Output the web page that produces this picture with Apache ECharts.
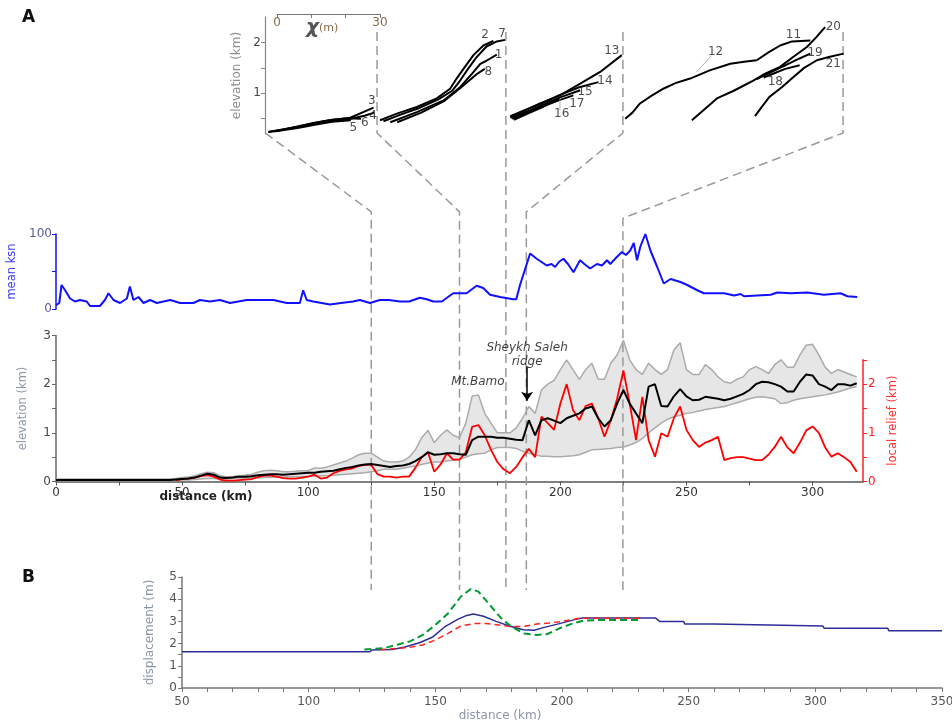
<!DOCTYPE html>
<html>
<head>
<meta charset="utf-8">
<script src="https://cdn.jsdelivr.net/npm/echarts@6/dist/echarts.min.js"></script>
<style>html,body{margin:0;background:#fff}#main{width:952px;height:724px}</style>
</head>
<body>
<div id="main"></div>
<script>
var chart = echarts.init(document.getElementById('main'));
var FONT = 'DejaVu Sans';

// ---- inset: chi-elevation profiles of channels (chi in m, elevation in km)
var ch1 = [[33,0.43],[40.7,0.63],[48.5,0.86],[53.3,1.12],[57,1.4],[59.2,1.58],[61,1.64],[64,1.76]];
var ch2 = [[30,0.47],[34.9,0.6],[40.7,0.73],[46.5,0.9],[50.4,1.09],[52.3,1.29],[54.3,1.48],[57.2,1.75],[60.1,1.94],[63,2.03]];
var ch3 = [[-2.5,0.24],[5.7,0.34],[10.6,0.41],[15.4,0.47],[21.3,0.52],[25.1,0.63],[28.1,0.72]];
var ch4 = [[-2.5,0.24],[5.7,0.33],[10.6,0.39],[15.4,0.45],[21.3,0.5],[25.5,0.56],[28.3,0.62]];
var ch5 = [[-1,0.25],[6,0.32],[11,0.38],[16,0.44],[21.5,0.47]];
var ch6 = [[0,0.26],[6,0.35],[11,0.42],[16,0.48],[21,0.51],[24.5,0.5]];
var ch7 = [[31,0.45],[36,0.58],[41,0.7],[47,0.88],[51,1.05],[53,1.22],[55,1.42],[58,1.7],[61,1.92],[64,2.02],[66.4,2.05]];
var ch8 = [[35,0.43],[42,0.62],[48.5,0.84],[53.3,1.1],[58.2,1.38],[60.5,1.48]];
var ch11 = [[139.7,1.65],[143,1.8],[146.5,1.94],[150,2.02],[155.3,2.04]];
var ch12 = [[101.4,0.5],[103.5,0.62],[105.7,0.8],[109,0.95],[112.5,1.09],[116,1.2],[120.3,1.29],[126,1.45],[132,1.58],[136,1.62],[139.7,1.65]];
var ch13 = [[67.9,0.54],[72,0.66],[76.6,0.8],[82.4,0.96],[88.3,1.19],[94.1,1.42],[100.4,1.75]];
var ch14 = [[68,0.55],[72.5,0.68],[77,0.8],[82.4,0.97],[88,1.12],[93.6,1.22]];
var ch15 = [[68,0.52],[73,0.65],[77,0.76],[82.4,0.92],[88.3,1.06]];
var ch16 = [[69,0.48],[73,0.6],[77,0.72],[82.4,0.9]];
var ch17 = [[68.5,0.5],[73,0.62],[77,0.73],[82,0.86],[86.3,0.96]];
var ch18 = [[141.7,1.31],[145,1.4],[148,1.48],[152.2,1.55]];
var ch19 = [[139.7,1.28],[144,1.42],[148,1.55],[152,1.68],[155.3,1.78]];
var ch20 = [[120.8,0.47],[123,0.6],[128.1,0.9],[133,1.05],[138.7,1.25],[142,1.38],[146.5,1.52],[150,1.7],[154.3,1.91],[157,2.1],[159.6,2.3]];
var ch21 = [[139.2,0.55],[141,0.72],[143.4,0.93],[147,1.12],[150.4,1.32],[153.5,1.5],[157.2,1.65],[161,1.72],[165,1.78]];
var channels = [ch1, ch2, ch3, ch4, ch5, ch6, ch7, ch8, ch11, ch12, ch13, ch14, ch15, ch16, ch17, ch18, ch19, ch20, ch21];
var channelLabels = [
  [64.5,1.75,'1'],[60.6,2.14,'2'],[27.6,0.86,'3'],[28,0.55,'4'],[22.2,0.33,'5'],[25.6,0.41,'6'],
  [65.5,2.17,'7'],[61.5,1.42,'8'],[150.4,2.14,'11'],[127.7,1.81,'12'],[97.5,1.84,'13'],[95.5,1.25,'14'],
  [89.7,1.03,'15'],[82.9,0.59,'16'],[87.3,0.8,'17'],[145.1,1.22,'18'],[156.7,1.79,'19'],[162,2.3,'20'],[162,1.58,'21']
];
var leader12 = [[126.5,1.74],[122.2,1.42]];
var leader16 = [[82.4,0.9],[82.4,0.66]];

// ---- mean ksn along the profile
var ksnKm = [0,1.3,2.2,3.6,5.6,7.5,9.5,12.2,13.5,17.4,19.4,20.8,22.8,25.4,28.1,29.3,30.7,32.7,34.7,37.3,40,45.3,49.2,54.5,57.1,61,65,69,75.6,80.9,86.2,91.5,96.7,98,99.4,102,108.6,113,117.8,120.5,124.5,128.4,132,136.4,140,144.3,147,149.6,153,157.5,160.1,162.8,166.8,169.4,172.1,176.1,181.3,182.5,184,188,190.6,194.6,196.5,197.9,199.5,201.2,203,205.2,207.8,209.5,211.8,214.5,216.5,218.5,219.8,222,224.4,226,227.7,229.1,230.4,231.7,233.7,235.7,238.4,241,243.7,247.6,250.3,254.3,256.9,264.9,268.9,271.5,272.8,283.4,286,291.3,297.9,304.5,311.1,313.8,317.7];
var ksnVal = [5,8,32,25,14,10,12,10,4,4,12,21,12,8,14,30,12,16,8,12,8,12,8,8,12,10,12,8,12,12,12,8,8,25,12,10,6,8,10,12,8,12,12,10,10,15,13,10,10,21,21,21,31,28,19,16,13,13,32,74,67,58,60,56,63,67,60,49,65,60,54,60,58,65,60,68,76,72,78,88,65,83,100,78,56,34,40,36,32,25,21,21,18,20,17,19,22,21,22,19,21,17,16];

// ---- swath profile, sampled every 2.5 km from 0 km
var elevStep = 2.5;
var elevMean = [
  0.03,0.03,0.03,0.03,0.03,0.03,0.03,0.03,0.03,0.03,
  0.03,0.03,0.03,0.03,0.03,0.03,0.03,0.03,0.03,0.04,
  0.05,0.06,0.08,0.12,0.16,0.14,0.08,0.07,0.08,0.1,
  0.1,0.11,0.13,0.14,0.15,0.15,0.14,0.15,0.16,0.17,
  0.18,0.18,0.2,0.21,0.22,0.25,0.28,0.3,0.33,0.35,
  0.36,0.34,0.32,0.3,0.32,0.33,0.36,0.42,0.5,0.6,
  0.55,0.56,0.58,0.58,0.56,0.55,0.85,0.92,0.92,0.92,
  0.9,0.9,0.88,0.86,0.85,1.26,0.95,1.26,1.3,1.25,
  1.2,1.3,1.35,1.4,1.5,1.54,1.3,1.13,1.26,1.6,
  1.88,1.6,1.4,1.2,1.95,2.0,1.55,1.54,1.75,1.9,
  1.75,1.67,1.68,1.74,1.72,1.7,1.67,1.7,1.75,1.8,
  1.88,2.0,2.05,2.04,2.0,1.95,1.85,1.85,2.05,2.2,
  2.18,2.0,1.95,1.88,2.0,2.0,1.97,2.02
];
var elevMax = [
  0.05,0.05,0.05,0.05,0.05,0.05,0.05,0.05,0.05,0.05,
  0.05,0.05,0.05,0.05,0.05,0.05,0.05,0.05,0.05,0.06,
  0.08,0.09,0.12,0.16,0.19,0.18,0.12,0.1,0.1,0.12,
  0.13,0.15,0.19,0.22,0.23,0.22,0.2,0.2,0.21,0.22,
  0.22,0.28,0.27,0.3,0.34,0.38,0.42,0.48,0.55,0.58,
  0.58,0.5,0.42,0.4,0.4,0.42,0.5,0.65,0.9,1.05,
  0.8,0.95,1.06,0.95,0.9,1.2,1.75,1.78,1.4,1.2,
  1.0,1.0,1.0,1.1,1.3,1.54,1.4,1.88,2.0,2.08,
  2.3,2.5,2.3,2.1,2.3,2.43,2.1,2.1,2.43,2.6,
  2.9,2.5,2.3,2.2,2.43,2.3,2.2,2.3,2.7,2.85,
  2.3,2.2,2.2,2.4,2.3,2.15,2.05,2.02,2.1,2.15,
  2.3,2.36,2.3,2.22,2.4,2.5,2.35,2.35,2.6,2.8,
  2.82,2.6,2.35,2.22,2.3,2.25,2.2,2.15
];
var elevMin = [
  0.02,0.02,0.02,0.02,0.02,0.02,0.02,0.02,0.02,0.02,
  0.02,0.02,0.02,0.02,0.02,0.02,0.02,0.02,0.02,0.02,
  0.03,0.03,0.04,0.05,0.06,0.06,0.05,0.05,0.06,0.07,
  0.07,0.07,0.07,0.08,0.08,0.09,0.09,0.1,0.1,0.1,
  0.11,0.11,0.12,0.12,0.13,0.14,0.15,0.16,0.17,0.18,
  0.2,0.22,0.25,0.25,0.25,0.27,0.3,0.32,0.35,0.38,
  0.4,0.4,0.42,0.44,0.45,0.5,0.55,0.57,0.58,0.65,
  0.7,0.7,0.7,0.68,0.62,0.58,0.55,0.52,0.52,0.51,
  0.51,0.52,0.53,0.55,0.6,0.65,0.66,0.67,0.68,0.7,
  0.71,0.75,0.8,0.88,1.0,1.1,1.2,1.28,1.33,1.36,
  1.4,1.42,1.45,1.48,1.5,1.52,1.54,1.58,1.62,1.66,
  1.7,1.73,1.74,1.72,1.7,1.6,1.62,1.67,1.7,1.72,
  1.74,1.76,1.78,1.81,1.84,1.88,1.92,1.95
];
// local relief starts at 47.5 km
var reliefStartKm = 47.5;
var relief = [
  0.03,
  0.05,0.06,0.08,0.11,0.13,0.1,0.04,0.02,0.02,0.03,
  0.04,0.05,0.09,0.12,0.12,0.1,0.07,0.06,0.06,0.08,
  0.1,0.14,0.06,0.08,0.17,0.22,0.25,0.27,0.32,0.34,
  0.34,0.15,0.1,0.1,0.08,0.1,0.1,0.28,0.5,0.6,
  0.2,0.35,0.58,0.45,0.45,0.6,1.12,1.16,0.95,0.65,
  0.4,0.25,0.17,0.3,0.5,0.67,0.5,1.33,1.2,1.06,
  1.6,2.0,1.47,1.26,1.55,1.6,1.3,0.92,1.26,1.7,
  2.28,1.6,0.85,1.74,0.85,0.51,0.99,0.92,1.3,1.54,
  1.06,0.85,0.71,0.8,0.85,0.92,0.44,0.48,0.5,0.5,
  0.47,0.44,0.44,0.55,0.71,0.92,0.7,0.58,0.8,1.05,
  1.13,1.0,0.7,0.51,0.58,0.5,0.4,0.2
];

// ---- panel B: modelled displacement
var dispBlueKm = [50,124,125,133,138,144,149,154,159,162,165,169,174,179.5,184.7,189,192.6,199,205,208,237,238.5,248,248.5,260,260.3,303,303.5,328.6,329,350];
var dispBlue = [1.63,1.63,1.71,1.73,1.85,2.05,2.3,2.78,3.1,3.25,3.33,3.23,3.0,2.78,2.62,2.6,2.72,2.9,3.08,3.15,3.15,3.0,3.0,2.88,2.88,2.79,2.79,2.69,2.69,2.58,2.58];
var dispGreenKm = [122,130,135,140,145,150,155,160,164,167,171,176,180,185,190,194,199,204,208,213,231];
var dispGreen = [1.73,1.8,1.95,2.1,2.39,2.84,3.36,4.11,4.46,4.34,3.81,3.14,2.76,2.46,2.39,2.42,2.69,2.9,3.02,3.06,3.06];
var dispRedKm = [128,135,140,145,150,155,160,165,170,175,180,185,190,195,200,207,231];
var dispRed = [1.73,1.78,1.83,1.94,2.16,2.46,2.79,2.9,2.9,2.84,2.76,2.78,2.88,2.93,3.0,3.14,3.14];

// ---- guide lines (km on the shared distance scale, height as fraction of figure band)
var guides = [
  [[83,0.788],[125,0.652],[125,0]],
  [[127.3,0.962],[127.3,0.788],[160,0.652],[160,0]],
  [[178.4,0.962],[178.4,0]],
  [[224.8,0.962],[224.8,0.788],[186.5,0.652],[186.5,0]],
  [[312.1,0.962],[312.1,0.788],[224.8,0.641],[224.8,0]]
];

var annotations = [[167.3,2.04,'Mt.Bamo'],[186.8,2.74,'Sheykh Saleh'],[186.8,2.45,'ridge']];

function zip(xs, ys) { return xs.map(function (x, i) { return [x, ys[i]]; }); }
function steps(a, b, s) { var r = []; for (var v = a; v <= b + 1e-9; v += s) r.push(+v.toFixed(2)); return r; }
function intOnly(v) { return Math.abs(v - Math.round(v)) < 1e-6 ? String(Math.round(v)) : ''; }
var elevKm = elevMean.map(function (_, i) { return i * elevStep; });
var reliefKm = relief.map(function (_, i) { return reliefStartKm + i * elevStep; });

var lbl = { fontFamily: FONT, fontSize: 12, color: '#444' };
function tickStyle(c) { return { lineStyle: { color: c, width: 1 }, length: 4 }; }
function axLine(c, w) { return { show: true, onZero: false, lineStyle: { color: c, width: w } }; }

var grids = [
  { left: 265, top: 17, width: 580, height: 117 },
  { left: 277, top: 13, width: 103, height: 1 },
  { left: 56, top: 234, width: 807, height: 75 },
  { left: 56, top: 335.5, width: 807, height: 146 },
  { left: 56, top: 359.75, width: 807, height: 121.75 },
  { left: 182, top: 577, width: 760, height: 111 },
  { left: 56, top: 10, width: 807, height: 580 }
].map(function (g) { g.outerBoundsMode = 'none'; g.containLabel = false; return g; });

var series = [];
channels.forEach(function (c) {
  series.push({ type: 'line', xAxisIndex: 0, yAxisIndex: 0, data: c, symbol: 'none', silent: true,
    lineStyle: { color: '#000', width: 2 }, z: 3 });
});
[leader12, leader16].forEach(function (c) {
  series.push({ type: 'line', xAxisIndex: 0, yAxisIndex: 0, data: c, symbol: 'none', silent: true,
    lineStyle: { color: '#999', width: 0.8 }, z: 3 });
});
series.push({ type: 'scatter', xAxisIndex: 0, yAxisIndex: 0, data: channelLabels, symbolSize: 1, silent: true,
  itemStyle: { color: 'rgba(0,0,0,0)' },
  label: { show: true, position: 'inside', formatter: function (p) { return p.value[2]; },
    fontFamily: FONT, fontSize: 12, color: '#222' }, z: 4 });

series.push({ type: 'line', xAxisIndex: 2, yAxisIndex: 2, data: zip(ksnKm, ksnVal), symbol: 'none', silent: true,
  clip: false, lineStyle: { color: '#1010ff', width: 2 } });

// grey band between swath minimum and maximum
series.push({ type: 'custom', xAxisIndex: 3, yAxisIndex: 3, data: [[0, 0]], silent: true, z: 1,
  renderItem: function (params, api) {
    var pts = [];
    for (var i = 0; i < elevKm.length; i++) pts.push(api.coord([elevKm[i], elevMax[i]]));
    for (var j = elevKm.length - 1; j >= 0; j--) pts.push(api.coord([elevKm[j], elevMin[j]]));
    return { type: 'polygon', shape: { points: pts }, style: { fill: '#e6e6e6' } };
  } });
series.push({ type: 'line', xAxisIndex: 3, yAxisIndex: 3, data: zip(elevKm, elevMax), symbol: 'none', silent: true,
  lineStyle: { color: '#ababab', width: 1.5 }, z: 2 });
series.push({ type: 'line', xAxisIndex: 3, yAxisIndex: 3, data: zip(elevKm, elevMin), symbol: 'none', silent: true,
  lineStyle: { color: '#ababab', width: 1.5 }, z: 2 });
series.push({ type: 'line', xAxisIndex: 4, yAxisIndex: 4, data: zip(reliefKm, relief), symbol: 'none', silent: true,
  lineStyle: { color: '#ff0000', width: 1.8 }, z: 3 });
series.push({ type: 'line', xAxisIndex: 3, yAxisIndex: 3, data: zip(elevKm, elevMean), symbol: 'none', silent: true,
  lineStyle: { color: '#000', width: 2 }, z: 4 });
series.push({ type: 'scatter', xAxisIndex: 3, yAxisIndex: 3, data: annotations, symbolSize: 1, silent: true,
  itemStyle: { color: 'rgba(0,0,0,0)' },
  label: { show: true, position: 'inside', formatter: function (p) { return p.value[2]; },
    fontFamily: FONT, fontSize: 12, fontStyle: 'italic', color: '#111' },
  markLine: { silent: true, symbol: ['none', 'arrow'], symbolSize: 9, label: { show: false },
    lineStyle: { color: '#000', width: 1.5, type: 'solid' },
    data: [[{ coord: [186.8, 2.37] }, { coord: [186.8, 1.66] }]] }, z: 5 });

series.push({ type: 'line', xAxisIndex: 5, yAxisIndex: 5, data: zip(dispBlueKm, dispBlue), symbol: 'none', silent: true,
  lineStyle: { color: '#2e2e99', width: 1.5 }, z: 2 });
series.push({ type: 'line', xAxisIndex: 5, yAxisIndex: 5, data: zip(dispRedKm, dispRed), symbol: 'none', silent: true,
  lineStyle: { color: '#ff2020', width: 1.5, type: [6, 4] }, z: 3 });
series.push({ type: 'line', xAxisIndex: 5, yAxisIndex: 5, data: zip(dispGreenKm, dispGreen), symbol: 'none', silent: true,
  lineStyle: { color: '#009933', width: 2, type: [7, 4] }, z: 3 });

guides.forEach(function (g) {
  series.push({ type: 'line', xAxisIndex: 6, yAxisIndex: 6, data: g, symbol: 'none', silent: true, clip: false,
    lineStyle: { color: '#9a9a9a', width: 1.5, type: [9, 5] }, z: 1 });
});

chart.setOption({
  animation: false,
  textStyle: { fontFamily: FONT },
  grid: grids,
  xAxis: [
    { gridIndex: 0, type: 'value', min: -3.5, max: 165.4, show: false },
    { gridIndex: 1, type: 'value', min: 0, max: 30, interval: 10, position: 'bottom',
      axisLine: axLine('#777', 1.2), axisTick: tickStyle('#777'),
      axisLabel: Object.assign({}, lbl, { customValues: [0, 30], color: '#8a6a4a', margin: 3 }), splitLine: { show: false } },
    { gridIndex: 2, type: 'value', min: 0, max: 320, show: false },
    { gridIndex: 3, type: 'value', min: 0, max: 320, axisLine: axLine('#555', 1.5),
      axisTick: Object.assign(tickStyle('#555'), { customValues: steps(0, 300, 25) }),
      axisLabel: Object.assign({}, lbl, { customValues: steps(0, 300, 50), color: '#333', margin: 5 }),
      splitLine: { show: false } },
    { gridIndex: 4, type: 'value', min: 0, max: 320, show: false },
    { gridIndex: 5, type: 'value', min: 50, max: 350, axisLine: axLine('#777', 1.5),
      axisTick: Object.assign(tickStyle('#777'), { customValues: steps(50, 350, 10) }),
      axisLabel: Object.assign({}, lbl, { customValues: steps(50, 350, 50), color: '#555', margin: 8 }),
      splitLine: { show: false } },
    { gridIndex: 6, type: 'value', min: 0, max: 320, show: false }
  ],
  yAxis: [
    { gridIndex: 0, type: 'value', min: 0.2, max: 2.5, axisLine: axLine('#888', 1.2),
      axisTick: Object.assign(tickStyle('#888'), { customValues: [0.5, 1, 1.5, 2] }),
      axisLabel: Object.assign({}, lbl, { customValues: [1, 2], margin: 4 }), splitLine: { show: false },
      name: 'elevation (km)', nameLocation: 'middle', nameGap: 20, nameRotate: 90,
      nameTextStyle: { fontFamily: FONT, fontSize: 12, color: '#8f8f8f' } },
    { gridIndex: 1, type: 'value', min: 0, max: 1, show: false },
    { gridIndex: 2, type: 'value', min: 0, max: 100, axisLine: axLine('#1010ff', 1.5),
      axisTick: Object.assign(tickStyle('#1010ff'), { customValues: [0, 50, 100] }),
      axisLabel: Object.assign({}, lbl, { customValues: [0, 100], color: '#5a5aa0', margin: 4 }), splitLine: { show: false },
      name: 'mean ksn', nameLocation: 'middle', nameGap: 29, nameRotate: 90,
      nameTextStyle: { fontFamily: FONT, fontSize: 11.5, color: '#3a3aff' } },
    { gridIndex: 3, type: 'value', min: 0, max: 3, axisLine: axLine('#666', 1.5),
      axisTick: Object.assign(tickStyle('#666'), { customValues: steps(0, 3, 0.5) }),
      axisLabel: Object.assign({}, lbl, { customValues: [0, 1, 2, 3], margin: 5 }), splitLine: { show: false },
      name: 'elevation (km)', nameLocation: 'middle', nameGap: 27, nameRotate: 90,
      nameTextStyle: { fontFamily: FONT, fontSize: 11.5, color: '#8a96a8' } },
    { gridIndex: 4, type: 'value', min: 0, max: 2.5, interval: 0.5, position: 'right',
      axisLine: axLine('#ff2020', 1.5), axisTick: tickStyle('#ff2020'),
      axisLabel: Object.assign({}, lbl, { formatter: intOnly, color: '#ff2020', margin: 5 }), splitLine: { show: false },
      name: 'local relief (km)', nameLocation: 'middle', nameGap: 20, nameRotate: 90,
      nameTextStyle: { fontFamily: FONT, fontSize: 11.5, color: '#ff3030' } },
    { gridIndex: 5, type: 'value', min: 0, max: 5, axisLine: axLine('#777', 1.5),
      axisTick: Object.assign(tickStyle('#777'), { customValues: steps(0, 5, 0.5) }),
      axisLabel: Object.assign({}, lbl, { customValues: [0, 1, 2, 3, 4, 5], color: '#555', margin: 5 }), splitLine: { show: false },
      name: 'displacement (m)', nameLocation: 'middle', nameGap: 26, nameRotate: 90,
      nameTextStyle: { fontFamily: FONT, fontSize: 12, color: '#8a96a8' } },
    { gridIndex: 6, type: 'value', min: 0, max: 1, show: false }
  ],
  graphic: [
    { type: 'text', left: 22, top: 9, style: { text: 'A', font: 'bold 17px ' + FONT, fill: '#111' } },
    { type: 'text', left: 22, top: 569, style: { text: 'B', font: 'bold 17px ' + FONT, fill: '#111' } },
    { type: 'text', left: 306, top: 18, style: {
      text: '{c|χ}{m|(m)}', rich: { c: { font: 'italic bold 20px ' + FONT, fill: '#555' },
        m: { font: '11px ' + FONT, fill: '#8a6a4a' } } } },
    { type: 'text', x: 206, y: 497, style: { text: 'distance (km)', font: 'bold 12px ' + FONT, fill: '#222',
      textAlign: 'center', textVerticalAlign: 'middle' } },
    { type: 'text', x: 500, y: 716, style: { text: 'distance (km)', font: '12px ' + FONT, fill: '#8a96a8',
      textAlign: 'center', textVerticalAlign: 'middle' } }
  ],
  series: series
});
</script>
</body>
</html>
